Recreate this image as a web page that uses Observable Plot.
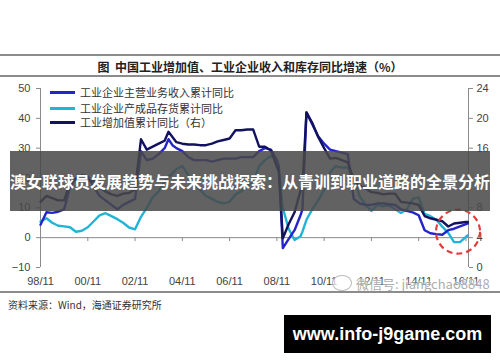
<!DOCTYPE html>
<html><head><meta charset="utf-8">
<script src="https://cdn.jsdelivr.net/npm/d3@7"></script>
<script src="https://cdn.jsdelivr.net/npm/@observablehq/plot@0.6"></script>
<style>
body{margin:0;background:#fff;}
#wrap{position:relative;width:500px;height:362px;overflow:hidden;background:#fff;font-family:"Noto Sans CJK SC",sans-serif;}
.hr{position:absolute;left:0;width:500px;height:1.5px;background:#8c8c8c;}
#title{position:absolute;left:0;width:500px;top:59px;text-align:center;font-size:12px;font-weight:bold;color:#222;line-height:16px;}
.lg{position:absolute;left:50px;width:25px;height:3px;}
.lt{position:absolute;left:80px;font-size:11px;color:#333;line-height:14px;white-space:nowrap;}
#banner{position:absolute;left:10px;top:151px;width:480px;height:60px;background:rgba(72,72,72,0.86);color:#fff;font-weight:bold;font-size:16px;line-height:60px;text-align:center;white-space:nowrap;}
#src{position:absolute;left:8px;top:298px;font-size:10px;color:#333;line-height:14px;}
#site{position:absolute;left:284px;top:315px;width:207px;height:38px;background:#000;color:#fff;font-family:"Liberation Sans",Arial,sans-serif;font-weight:bold;font-size:18px;line-height:38px;text-align:center;}
#wm{position:absolute;left:356px;top:274px;font-size:13px;color:rgba(150,150,150,0.8);text-shadow:0 0 2px #fff,0 0 2px #fff;white-space:nowrap;}
#wmi{position:absolute;left:332px;top:275px;width:18px;height:14px;border:1.5px solid rgba(170,170,170,0.8);border-radius:50%;background:rgba(255,255,255,0.7);}
</style></head><body>
<div id="wrap">
  <div id="chart" style="position:absolute;left:0;top:0;"></div>
  <div class="hr" style="top:54px"></div>
  <div id="title">图&nbsp;&nbsp;中国工业增加值、工业企业收入和库存同比增速（%）</div>
  <div class="hr" style="top:75px"></div>
  <div class="lg" style="top:91px;background:#2424cc"></div>
  <div class="lt" style="top:85px">工业企业主营业务收入累计同比</div>
  <div class="lg" style="top:107px;background:#22b4d6"></div>
  <div class="lt" style="top:101px">工业企业产成品存货累计同比</div>
  <div class="lg" style="top:121px;background:#12125e"></div>
  <div class="lt" style="top:115px">工业增加值累计同比（右）</div>
  <div id="wmi"></div>
  <div id="wm">微信号: jiangchao8848</div>
  <div class="hr" style="top:291px;height:2px"></div>
  <div id="src">资料来源：Wind，海通证券研究所</div>
  <div id="banner">澳女联球员发展趋势与未来挑战探索：从青训到职业道路的全景分析</div>
  <div id="site">www.info-j9game.com</div>
</div>
<script>
const dates = ["1998-11","1999-02","1999-05","1999-08","1999-11","2000-02","2000-05","2000-08","2000-11","2001-02","2001-05","2001-08","2001-11","2002-02","2002-05","2002-08","2002-11","2003-02","2003-05","2003-08","2003-11","2004-02","2004-04","2004-06","2004-08","2004-11","2005-02","2005-05","2005-08","2005-11","2006-02","2006-05","2006-08","2006-11","2007-02","2007-05","2007-08","2007-11","2008-02","2008-05","2008-08","2008-11","2008-12","2009-02","2009-05","2009-08","2009-11","2009-12","2010-02","2010-05","2010-08","2010-11","2011-02","2011-05","2011-08","2011-11","2012-02","2012-05","2012-08","2012-11","2013-02","2013-05","2013-08","2013-11","2014-02","2014-05","2014-08","2014-11","2015-02","2015-05","2015-08","2015-11","2016-02","2016-05","2016-08","2016-11","2016-12"];
// 工业企业主营业务收入累计同比 (left axis, %)
const revenue = [4.3, 8.5,8.3,8.7,9.5, 17,20,21,20.5, 17,14,12.5,11, 9.5,11,12,13, 29,26,26.5,28, 30,33,31,30,29, 27,26,26,26, 25.5,26,26.5,26.5, 26.5,27,27,27, 29,30,29.5,26,24, -3.5,-0.5,2.5,7.5,9.5, 42,38,34,31.5, 29.5,29,28.5,28, 13,11.5,11,11, 11.5,11.5,11.2,11, 9.5,9,8.5,7.5, 2.5,1.5,1.2,1, 2.5,3,3.8,4.5,4.8];
// 工业企业产成品存货累计同比 (left axis, %)
const inventory = [5.4, 6.5,5.0,4.0,3.8, 3.5,2.0,2.3,3.5, 5.5,7.5,8.2,7.2, 6.2,5.0,3.4,2.8, 7.0,10.0,13.5,15.5, 19,20.5,21.5,23,24, 21,18,16,14, 13,12,11.5,12, 14.5,15.5,17.5,18.5, 24,26,27.5,26,22, 10,3,-0.8,0.5,2, 6,9.5,12.5,16, 22,24,23.5,23.5, 20,14,11,9, 11,10.5,10.8,9.5, 8.3,9.5,13,13.5, 8,7.2,6,3.7, 1.6,-1.5,-1.5,0.3,0.8];
// 工业增加值累计同比 (right axis, %)
const iva = [8.8, 9.6,9.3,9.0,9.0, 11.4,11.8,11.7,11.6, 11.6,10.8,10.2,9.8, 9.6,9.9,10.0,10.5, 17.2,15.8,16.2,16.6, 17.0,18.2,17.5,16.8,16.6, 16.5,16.5,16.4,16.4, 16.6,16.9,17.1,17.3, 18.4,18.4,18.5,18.5, 16.2,16.2,15.7,13.5,12.9, 3.9,5.8,7.4,10.3,11.0, 20.8,19.4,17.5,16.0, 14.6,14.7,14.4,14.1, 11.8,11.0,10.6,10.1, 10.0,9.8,9.9,9.9, 8.8,8.7,8.6,8.4, 6.9,6.6,6.4,6.2, 5.5,5.9,6.0,6.1,6.1];
const xTickLabels = ["1998-11","2000-11","2002-11","2004-11","2006-11","2008-11","2010-11","2012-11","2014-11","2016-11"];
const leftTicks = [-10,0,10,20,30,40,50];
const rightTicks = [0,4,8,12,16,20,24];
const highlight = [{date: "2016-07", value: 2}];

const parse = d3.utcParse("%Y-%m");
const toLeft = r => r * 2.5 - 10;
const rows = dates.map((d, i) => ({date: parse(d), revenue: revenue[i], inventory: inventory[i], iva: toLeft(iva[i])}));
const xTicks = xTickLabels.map(parse);
const x0 = parse("1998-11"), x1 = new Date(Date.UTC(2016, 11, 10));
const hl = highlight.map(h => ({date: parse(h.date), value: h.value}));
const axisColor = "#8a8a8a";

const chart = Plot.plot({
  width: 500, height: 362,
  marginLeft: 40, marginRight: 32, marginTop: 88, marginBottom: 95,
  style: {background: "transparent", color: "#444", fontSize: "11px", fontFamily: "'Liberation Sans', Arial, sans-serif", overflow: "visible"},
  x: {type: "utc", domain: [x0, x1], label: null},
  y: {domain: [-10, 50], label: null},
  marks: [
    Plot.ruleX([x0], {y1: -10, y2: 50, stroke: axisColor}),
    Plot.ruleX([x1], {y1: -10, y2: 50, stroke: axisColor}),
    Plot.ruleY([0], {stroke: axisColor}),
    Plot.ruleX(xTicks, {y1: 0, y2: -1.3, stroke: axisColor}),
    Plot.axisY({anchor: "left", ticks: leftTicks, tickSize: 4, tickPadding: 6, stroke: axisColor, label: null}),
    Plot.axisY({anchor: "right", ticks: rightTicks.map(toLeft), tickFormat: d => String((d + 10) / 2.5), tickSize: 4, tickPadding: 4, stroke: axisColor, label: null}),
    Plot.axisX({ticks: xTicks, tickFormat: d3.utcFormat("%y/%m"), tickSize: 0, tickPadding: 10, label: null}),
    Plot.line(rows, {x: "date", y: "inventory", stroke: "#22b4d6", strokeWidth: 2.4}),
    Plot.line(rows, {x: "date", y: "revenue", stroke: "#2424cc", strokeWidth: 2.4}),
    Plot.line(rows, {x: "date", y: "iva", stroke: "#12125e", strokeWidth: 2.4}),
    Plot.dot(hl, {x: "date", y: "value", r: 22, stroke: "#e23b3b", strokeWidth: 2.2, strokeDasharray: "6,4", fill: "none"})
  ]
});
document.getElementById("chart").appendChild(chart);
</script>
</body></html>
